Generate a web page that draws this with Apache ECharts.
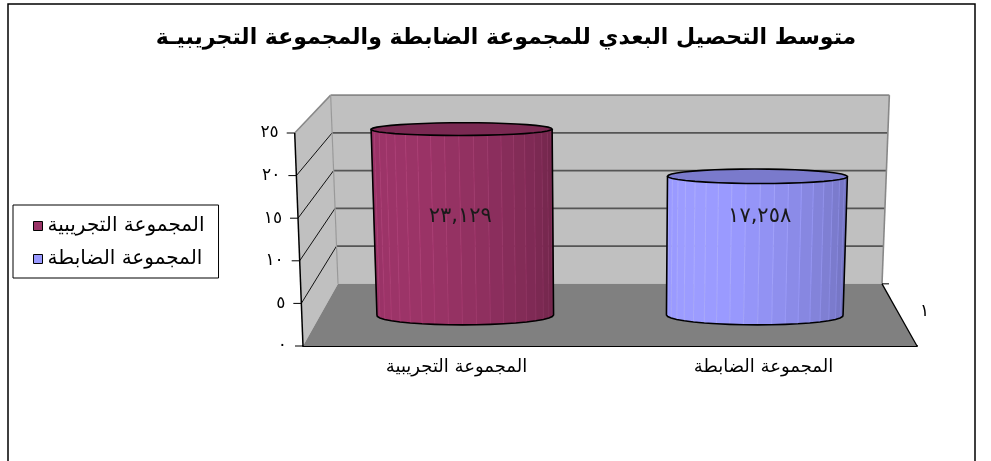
<!DOCTYPE html>
<html>
<head>
<meta charset="utf-8">
<script src="https://cdn.jsdelivr.net/npm/echarts@6/dist/echarts.min.js"></script>
<style>
  html, body { margin: 0; padding: 0; background: #fff; }
  #chart { width: 991px; height: 461px; }
</style>
</head>
<body>
<div id="chart"></div>
<script>
// ---- data ----
const titleText = 'متوسط التحصيل البعدي للمجموعة الضابطة والمجموعة التجريبيـة';
const categories = ['المجموعة التجريبية', 'المجموعة الضابطة'];
const groupMeans = [23.129, 17.258];
const valueTicks = [0, 5, 10, 15, 20, 25];
const depthLabels = ['1'];

// ---- look ----
const groupColors = ['#993366', '#9999ff'];
const FONT = '"DejaVu Sans", "Noto Sans", sans-serif';

// 3D box geometry (perspective of the front plane towards the back wall)
const DEPTH_SHRINK = 0.114;   // back wall is 88.6% of the front plane
const VANISH = 2.56;          // vanishing point height above the base, in plot heights
const WIDEN = 0.027;          // plane widens slightly towards the top
const DEPTH_MID = 0.5;        // cylinders stand in the middle of the floor
const DEPTH_RADIUS = 0.16;    // cylinder radius along the depth axis
const RADIUS_FRAC = 0.305;    // cylinder radius as a share of the category band
const FACETS = 40;
const LABEL_LEVEL = 13.2;     // height where the value labels sit

const arabicDigits = '٠١٢٣٤٥٦٧٨٩';
function toArabic(s) {
  return String(s).replace(/[0-9]/g, d => arabicDigits[+d]).replace(/\./g, ',');
}

function proj(px, py, d, cs) {
  const cx = cs.x + cs.width / 2;
  const base = cs.y + cs.height;
  const h = (base - py) / cs.height;
  const x1 = cx + (px - cx) * (1 + WIDEN * h);
  const f = 1 - DEPTH_SHRINK * d;
  const vy = base - VANISH * cs.height;
  return [cx + (x1 - cx) * f, vy + (py - vy) * f];
}

function shade(hex, k) {
  const n = parseInt(hex.slice(1), 16);
  const c = [(n >> 16) & 255, (n >> 8) & 255, n & 255].map(v => Math.max(0, Math.min(255, Math.round(v * k))));
  return 'rgb(' + c.join(',') + ')';
}

// walls, floor, value axis and depth axis
function renderFrame(params, api) {
  const cs = params.coordSys;
  const left = cs.x, right = cs.x + cs.width;
  const yOf = v => api.coord([0, v])[1];
  const vMax = valueTicks[valueTicks.length - 1];
  const vMin = valueTicks[0];
  const kids = [];
  const poly = (pts, fill, stroke, w) => kids.push({
    type: 'polygon', shape: { points: pts },
    style: { fill: fill, stroke: stroke || null, lineWidth: w || 0 }
  });
  const line = (a, b, stroke, w) => kids.push({
    type: 'line', shape: { x1: a[0], y1: a[1], x2: b[0], y2: b[1] },
    style: { stroke: stroke, lineWidth: w }
  });

  const yT = yOf(vMax), yB = yOf(vMin);
  // back wall
  poly([proj(left, yT, 1, cs), proj(right, yT, 1, cs), proj(right, yB, 1, cs), proj(left, yB, 1, cs)], '#c0c0c0');
  // side wall
  poly([proj(left, yB, 0, cs), proj(left, yT, 0, cs), proj(left, yT, 1, cs), proj(left, yB, 1, cs)], '#c0c0c0');
  // floor
  poly([proj(left, yB, 0, cs), proj(right, yB, 0, cs), proj(right, yB, 1, cs), proj(left, yB, 1, cs)], '#808080');

  // gridlines
  valueTicks.forEach(v => {
    if (v === vMin || v === vMax) return;
    const y = yOf(v);
    line(proj(left, y, 0, cs), proj(left, y, 1, cs), '#111', 1);
    line(proj(left, y, 1, cs), proj(right, y, 1, cs), '#555', 1.6);
  });
  // wall outlines
  line(proj(left, yT, 0, cs), proj(left, yT, 1, cs), '#888', 1.5);
  line(proj(left, yT, 1, cs), proj(right, yT, 1, cs), '#888', 1.6);
  line(proj(right, yT, 1, cs), proj(right, yB, 1, cs), '#888', 1.6);
  line(proj(left, yT, 1, cs), proj(left, yB, 1, cs), '#999', 1.2);
  // floor right edge
  line(proj(right, yB, 0, cs), proj(right, yB, 1, cs), '#000', 1.3);
  const backR = proj(right, yB, 1, cs);
  line(backR, [backR[0] + 7, backR[1]], '#000', 1);

  // value axis line, ticks and labels
  line(proj(left, yB, 0, cs), proj(left, yT, 0, cs), '#000', 1.5);
  valueTicks.forEach(v => {
    const p = proj(left, yOf(v), 0, cs);
    line([p[0] - 8, p[1]], p, '#000', 1);
    kids.push({
      type: 'text',
      style: {
        text: toArabic(v), x: p[0] - 16, y: p[1], align: 'right', verticalAlign: 'middle',
        font: '17px ' + FONT, fill: '#000'
      }
    });
  });

  // depth axis label
  const frontR = proj(right, yB, 0, cs);
  depthLabels.forEach(t => {
    kids.push({
      type: 'text',
      style: {
        text: toArabic(t), x: (frontR[0] + backR[0]) / 2 + 25, y: (frontR[1] + backR[1]) / 2 - 3,
        align: 'center', verticalAlign: 'middle', font: '17px ' + FONT, fill: '#000'
      }
    });
  });

  return { type: 'group', children: kids };
}

// a faceted cylinder standing on the floor
function makeCylinder(baseColor) {
  return function (params, api) {
    const cs = params.coordSys;
    const cat = api.value(0), val = api.value(1);
    const b = api.coord([cat, 0]);
    const cxf = b[0], y0 = b[1];
    const yTop = api.coord([cat, val])[1];
    const rx = api.size([1, 0])[0] * RADIUS_FRAC;
    const P = (t, py) => proj(cxf + rx * Math.cos(t), py, DEPTH_MID - DEPTH_RADIUS * Math.sin(t), cs);
    const kids = [];
    const half = FACETS / 2;
    for (let i = 0; i < half; i++) {
      const t1 = Math.PI * i / half, t2 = Math.PI * (i + 1) / half;
      const tm = (t1 + t2) / 2;
      const k = 0.85 + 0.17 * Math.cos(tm - 2.4);
      kids.push({
        type: 'polygon',
        shape: { points: [P(t1, y0), P(t2, y0), P(t2, yTop), P(t1, yTop)] },
        style: { fill: shade(baseColor, k), stroke: shade(baseColor, k * 1.12), lineWidth: 0.6 }
      });
    }
    // silhouette outline
    const outline = [P(Math.PI, yTop)];
    for (let i = half; i >= 0; i--) outline.push(P(Math.PI * i / half, y0));
    outline.push(P(0, yTop));
    kids.push({ type: 'polyline', shape: { points: outline }, style: { stroke: '#000', lineWidth: 1.6, fill: null } });
    // top cap
    const cap = [];
    for (let i = 0; i < FACETS; i++) cap.push(P(2 * Math.PI * i / FACETS, yTop));
    kids.push({ type: 'polygon', shape: { points: cap }, style: { fill: shade(baseColor, 0.8), stroke: '#000', lineWidth: 1.6 } });
    // value label
    const lp = proj(cxf, api.coord([cat, LABEL_LEVEL])[1], DEPTH_MID - DEPTH_RADIUS, cs);
    kids.push({
      type: 'text',
      style: {
        text: toArabic(val.toFixed(3)), x: lp[0], y: lp[1], align: 'center', verticalAlign: 'middle',
        font: '21px ' + FONT, fill: '#1a1a1a'
      }
    });
    return { type: 'group', children: kids };
  };
}

const chart = echarts.init(document.getElementById('chart'), null, { renderer: 'canvas' });

const series = [{
  type: 'custom', name: 'frame', silent: true, z: 1, clip: false,
  data: [[0, 0]], renderItem: renderFrame
}];
categories.forEach((name, i) => {
  series.push({
    type: 'custom', name: name, z: 3, clip: false,
    itemStyle: { color: groupColors[i] },
    data: [[i, groupMeans[i]]],
    renderItem: makeCylinder(groupColors[i])
  });
});

chart.setOption({
  animation: false,
  backgroundColor: '#fff',
  textStyle: { fontFamily: FONT },
  title: {
    text: titleText, left: 506, textAlign: 'center', top: 27, padding: 0,
    textStyle: { fontSize: 22, fontWeight: 'bold', color: '#000', fontFamily: FONT }
  },
  legend: {
    data: categories, orient: 'vertical', left: 13, top: 205,
    icon: 'rect', itemWidth: 9, itemHeight: 9, itemGap: 13,
    itemStyle: { borderColor: '#000', borderWidth: 1 },
    borderColor: '#000', borderWidth: 1, padding: [11, 14, 9, 20],
    textStyle: { fontSize: 20, color: '#000', fontFamily: FONT }
  },
  grid: { left: 303, right: 74, top: 133, bottom: 115, containLabel: false },
  xAxis: {
    type: 'category', data: categories,
    axisLine: { lineStyle: { color: '#000', width: 2 } },
    axisTick: { length: 5, lineStyle: { color: '#000' } },
    axisLabel: { fontSize: 18, color: '#000', margin: 12, fontFamily: FONT },
    splitLine: { show: false }
  },
  yAxis: {
    type: 'value', min: 0, max: 25, interval: 5,
    axisLine: { show: false }, axisTick: { show: false },
    axisLabel: { show: false }, splitLine: { show: false }
  },
  graphic: [{
    type: 'polyline', silent: true, z: 100,
    shape: { points: [[8, 470], [8, 4], [975, 4], [975, 470]] },
    style: { stroke: '#000', lineWidth: 1.5, fill: null }
  }],
  series: series
});
</script>
</body>
</html>
